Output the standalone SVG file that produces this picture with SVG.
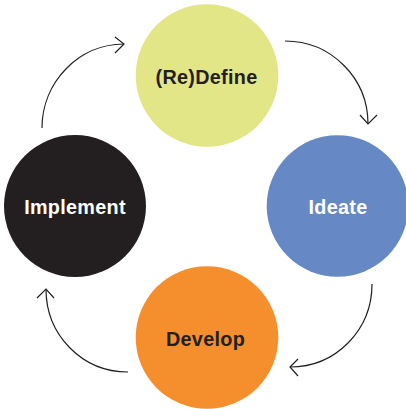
<svg xmlns="http://www.w3.org/2000/svg" width="406" height="409" viewBox="0 0 406 409">
<style>
.lbl{font-family:"Liberation Sans",Arial,Helvetica,sans-serif;font-weight:bold;font-size:19.8px;letter-spacing:0.3px;text-anchor:middle}
.dark{fill:#231f20}
.light{fill:#ffffff}
.conn{fill:none;stroke:#231f20;stroke-width:1.2}
</style>
<rect width="406" height="409" fill="#ffffff"/>
<g id="node-redefine">
<circle cx="207" cy="75.5" r="71.3" fill="#e3e686"/>
<text class="lbl dark" x="206.5" y="84">(Re)Define</text>
</g>
<g id="node-ideate">
<circle cx="337.5" cy="206" r="70.8" fill="#6688c5"/>
<text class="lbl light" x="338" y="214">Ideate</text>
</g>
<g id="node-develop">
<circle cx="207" cy="337.5" r="71.3" fill="#f58e2c"/>
<text class="lbl dark" x="205.5" y="345.5">Develop</text>
</g>
<g id="node-implement">
<circle cx="75" cy="206" r="71" fill="#231f20"/>
<text class="lbl light" x="75" y="214">Implement</text>
</g>
<g id="connectors">
<path class="conn" d="M42,128 C42,82 79,44 124,44"/>
<path class="conn" d="M115,37 L124,44 L115,53"/>
<path class="conn" d="M285,41 C331,41 368,78 368,124"/>
<path class="conn" d="M360,115 L368,124 L377,115"/>
<path class="conn" d="M372,284 C372,330 336,367 290,367"/>
<path class="conn" d="M298,359 L290,367 L298,376"/>
<path class="conn" d="M128,372 C82,372 46,335 46,289"/>
<path class="conn" d="M37,298 L46,289 L54,298"/>
</g>
</svg>
